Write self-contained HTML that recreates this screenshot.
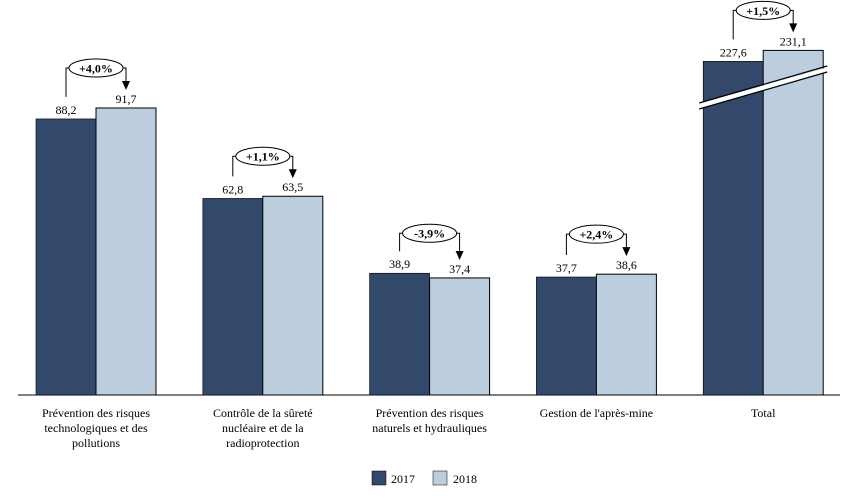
<!DOCTYPE html>
<html><head><meta charset="utf-8"><style>
body{margin:0;background:#fff;width:857px;height:496px;overflow:hidden}
text{font-family:"Liberation Serif",serif;fill:#000}
</style></head><body>
<svg id="c" width="857" height="496">
<line x1="18" y1="395" x2="840" y2="395" stroke="#000" stroke-width="1"/>
<g>
<rect x="372" y="471" width="14" height="14" fill="#33496b" stroke="#000" stroke-width="0.5"/>
<text x="391" y="483" font-size="12">2017</text>
<rect x="433" y="471" width="14" height="14" fill="#bccddd" stroke="#000" stroke-width="0.5"/>
<text x="453" y="483" font-size="12">2018</text>
</g>
</svg>
<script>
const categories=[["Prévention des risques","technologiques et des","pollutions"],["Contrôle de la sûreté","nucléaire et de la","radioprotection"],["Prévention des risques","naturels et hydrauliques"],["Gestion de l'après-mine"],["Total"]];
const values2017=[88.2,62.8,38.9,37.7,227.6];
const values2018=[91.7,63.5,37.4,38.6,231.1];
const changes=["+4,0%","+1,1%","-3,9%","+2,4%","+1,5%"];
const NS="http://www.w3.org/2000/svg",svg=document.getElementById('c');
const base=395,k=3.13,breakOffset=121;
function y(v,i){return base-(i===4?v-breakOffset:v)*k;}
function x0(i){return 36+i*166.8;}
function mk(t,a,p){const e=document.createElementNS(NS,t);for(const n in a)e.setAttribute(n,a[n]);(p||svg).appendChild(e);return e;}
const fmt=v=>v.toFixed(1).replace('.',',');
categories.forEach((c,i)=>{
  const g=mk('g',{});
  
  
  const xa=x0(i),w=60;
  const ya=y(values2017[i],i),yb=y(values2018[i],i);
  const r1=mk('rect',{x:xa,y:ya,width:w,height:base-ya,fill:'#33496b',stroke:'#000','stroke-width':0.6},g);
  
  
  const r2=mk('rect',{x:xa+w,y:yb,width:w,height:base-yb,fill:'#bccddd',stroke:'#000','stroke-width':1},g);
  
  
  const t1=mk('text',{x:xa+w/2,y:ya-5,'font-size':12,'text-anchor':'middle'},g);t1.textContent=fmt(values2017[i]);
  
  
  const t2=mk('text',{x:xa+w*1.5,y:yb-5,'font-size':12,'text-anchor':'middle'},g);t2.textContent=fmt(values2018[i]);
  
  
  const top=Math.min(ya,yb)-40;
  const cx=xa+w,lx=xa+w/2,rx=xa+w*1.5;
  mk('path',{d:`M${lx},${ya-22} V${top} H${cx-26}`,fill:'none',stroke:'#000','stroke-width':1},g);
  mk('path',{d:`M${cx+26},${top} H${rx} V${yb-26}`,fill:'none',stroke:'#000','stroke-width':1},g);
  mk('path',{d:`M${rx-4},${yb-27} L${rx+4},${yb-27} L${rx},${yb-18} Z`,fill:'#000'},g);
  const el=mk('ellipse',{cx:cx,cy:top,rx:27,ry:9,fill:'#fff',stroke:'#000','stroke-width':1},g);
  
  
  const ct=mk('text',{x:cx,y:top+4.5,'font-size':12,'font-weight':'bold','text-anchor':'middle'},g);ct.textContent=changes[i];
  
  
  const lab=mk('text',{x:xa+w,y:417,'font-size':12,'text-anchor':'middle'},g);
  
  
  c.forEach((s,j)=>{const ts=mk('tspan',{x:xa+w,dy:j?15:0},lab);ts.textContent=s;});
  if(i===4){
    mk('line',{x1:xa-4,y1:106,x2:xa+2*w+4,y2:70,stroke:'#fff','stroke-width':5},g);
    mk('line',{x1:xa-4,y1:103,x2:xa+2*w+4,y2:66,stroke:'#000','stroke-width':1.2},g);
    mk('line',{x1:xa-4,y1:109,x2:xa+2*w+4,y2:72,stroke:'#000','stroke-width':1.2},g);
  }
});
</script>
</body></html>
